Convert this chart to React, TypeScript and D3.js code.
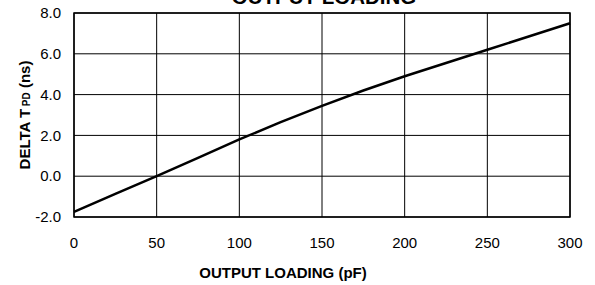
import React from 'react';
import * as d3 from 'd3';

const loadings = [0, 25, 50, 75, 100, 125, 150, 175, 200, 225, 250, 275, 300];
const deltaTpd = [-1.75, -0.87, 0, 0.9, 1.8, 2.65, 3.45, 4.2, 4.9, 5.55, 6.2, 6.85, 7.5];
const xTicks = [0, 50, 100, 150, 200, 250, 300];
const yTicks = [-2, 0, 2, 4, 6, 8];

const W = 595;
const H = 285;
const margin = { top: 13, right: 25, bottom: 68, left: 74 };
const font = '"Liberation Sans", Arial, Helvetica, sans-serif';

const App: React.FC = () => {
  const x = d3.scaleLinear().domain([0, 300]).range([margin.left, W - margin.right]);
  const y = d3.scaleLinear().domain([-2, 8]).range([H - margin.bottom, margin.top]);
  const pts = loadings.map((l, i) => [l, deltaTpd[i]] as [number, number]);
  const line = d3.line<[number, number]>().x(d => x(d[0])).y(d => y(d[1]));

  return (
    <svg width={W} height={H} style={{ position: 'absolute', left: 0, top: 0 }} fontFamily={font}>
      <rect width={W} height={H} fill="#fff" />
      <text x={324} y={4} textAnchor="middle" fontSize={20.5} fontWeight="bold">OUTPUT LOADING</text>
      {xTicks.map(t => (
        <line key={'gx' + t} x1={x(t)} x2={x(t)} y1={y(-2)} y2={y(8)} stroke="#000" strokeWidth={1} />
      ))}
      {yTicks.map(t => (
        <line key={'gy' + t} x1={x(0)} x2={x(300)} y1={y(t)} y2={y(t)} stroke="#000" strokeWidth={1} />
      ))}
      <rect x={x(0)} y={y(8)} width={x(300) - x(0)} height={y(-2) - y(8)} fill="none" stroke="#000" strokeWidth={1.5} />
      <path d={line(pts) || ''} fill="none" stroke="#000" strokeWidth={2.5} />
      {yTicks.map(t => (
        <text key={'ty' + t} x={61} y={y(t)} dy="0.35em" textAnchor="end" fontSize={15}>{t.toFixed(1)}</text>
      ))}
      {xTicks.map(t => (
        <text key={'tx' + t} x={x(t)} y={248} textAnchor="middle" fontSize={15}>{t}</text>
      ))}
      <text x={283} y={278} textAnchor="middle" fontSize={15} fontWeight="bold">OUTPUT LOADING (pF)</text>
      <text transform="translate(30,115) rotate(-90)" textAnchor="middle" fontSize={15} fontWeight="bold">
        DELTA T<tspan fontSize={10}> PD</tspan> (ns)
      </text>
    </svg>
  );
};

export default App;
